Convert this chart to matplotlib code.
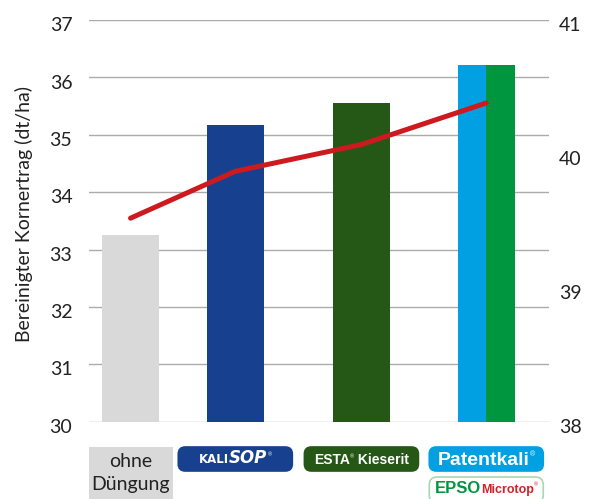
import matplotlib.pyplot as plt
from matplotlib.patches import FancyBboxPatch, Rectangle
from matplotlib.transforms import IdentityTransform, ScaledTranslation

# Daten
kategorien = ["ohne Düngung", "KALISOP", "ESTA Kieserit", "Patentkali + EPSO Microtop"]
kornertrag = [33.25, 35.17, 35.56, 36.22]      # linke Achse, dt/ha
rechte_werte = [39.52, 39.87, 40.07, 40.38]    # rechte Achse (Linie)
links_ticks = [30, 31, 32, 33, 34, 35, 36, 37]
rechts_ticks = [38, 39, 40, 41]

# Layout
pos = [0, 0.835, 1.84, 2.835]
breite = 0.454
farben = ["#d9d9d9", "#17418f", "#255716"]
hellblau = "#00a0e2"
gruen = "#009640"
rot = "#cc1a1f"

plt.rcParams['font.family'] = ['Lato', 'DejaVu Sans']

fig = plt.figure(figsize=(6.01, 4.99), dpi=100)
ax = fig.add_axes([89 / 601, (499 - 421.7) / 499, 460 / 601, 401.7 / 499])

ax.bar(pos[:3], kornertrag[:3], width=breite, color=farben, zorder=2)
ax.bar(pos[3] - breite / 4, kornertrag[3], width=breite / 2, color=hellblau, zorder=2)
ax.bar(pos[3] + breite / 4, kornertrag[3], width=breite / 2, color=gruen, zorder=2)

ax.set_ylim(30, 37)
ax.set_xlim(-0.331, 3.335)
ax.set_yticks(links_ticks)
ax.set_xticks([])
ax.grid(axis='y', color='#ababab', lw=1, zorder=0)
ax.set_axisbelow(True)
ax.tick_params(axis='y', length=0, pad=12, labelsize=14, labelcolor='#222222')
for s in ax.spines.values():
    s.set_visible(False)

ax2 = ax.twinx()
ax2.set_ylim(38, 41)
ax2.set_yticks(rechts_ticks)
ax2.tick_params(axis='y', length=0, pad=7, labelsize=14, labelcolor='#222222')
for s in ax2.spines.values():
    s.set_visible(False)
ax2.plot(pos, rechte_werte, color=rot, lw=3.6, solid_capstyle='round', solid_joinstyle='round')

fig.text(24 / 601, 1 - 214 / 499, "Bereinigter Kornertrag (dt/ha)", rotation=90,
         ha='center', va='center', fontsize=14, color='#222222')

# Zahlen etwas tiefer setzen wie im Original
fig.canvas.draw()
runter = ScaledTranslation(0, -3 / 72, fig.dpi_scale_trans)
for a in (ax, ax2):
    for tick in a.yaxis.get_major_ticks():
        tick.label1.set_transform(tick.label1.get_transform() + runter)
        tick.label2.set_transform(tick.label2.get_transform() + runter)

# Beschriftungen unter den Balken (Logos als Text)
pix = IdentityTransform()
renderer = fig.canvas.get_renderer()


def kasten(cx, y0, w, h, fc, ec=None, r=7):
    p = FancyBboxPatch((cx - w / 2, y0), w, h, boxstyle=f"round,pad=0,rounding_size={r}",
                       fc=fc, ec=ec or fc, lw=1.2, transform=pix)
    fig.add_artist(p)


def schrift(cx, y, teile):
    texte = []
    for s, dy, kw in teile:
        texte.append(fig.text(0, y + dy, s, transform=pix, va='baseline', ha='left', **kw))
    breiten = [t.get_window_extent(renderer).width for t in texte]
    x = cx - sum(breiten) / 2
    for t, b in zip(texte, breiten):
        t.set_x(x)
        x += b


mitten = [ax.transData.transform((p, 30))[0] for p in pos]

# ohne Düngung
fig.add_artist(Rectangle((mitten[0] - 42, 0), 84, 52.3, fc='#d9d9d9', ec='none', transform=pix))
fig.text(mitten[0], 32, "ohne", transform=pix, ha='center', va='baseline', fontsize=14, color='#222222')
fig.text(mitten[0], 9, "Düngung", transform=pix, ha='center', va='baseline', fontsize=14, color='#222222')

lib = ['Liberation Sans', 'DejaVu Sans']

# KALISOP
kasten(mitten[1], 28, 114, 24, farben[1])
schrift(mitten[1], 36, [
    ("KALI", 0, dict(family='DejaVu Sans', fontsize=8.5, weight='bold', color='white')),
    ("SOP", 0, dict(family='DejaVu Sans', fontsize=12, weight='bold', style='italic', color='white')),
    ("®", 7, dict(family=lib, fontsize=4, color='white')),
])

# ESTA Kieserit
kasten(mitten[2], 28, 114, 24, farben[2])
schrift(mitten[2], 35, [
    ("ESTA", 0, dict(family=lib, fontsize=10, weight='bold', color='white')),
    ("®", 6, dict(family=lib, fontsize=4, color='white')),
    (" Kieserit", 0, dict(family=lib, fontsize=10, weight='bold', color='white')),
])

# Patentkali
kasten(mitten[3], 28, 114, 24, hellblau)
schrift(mitten[3], 34, [
    ("Patentkali", 0, dict(family=lib, fontsize=14, weight='bold', color='white')),
    ("®", 9, dict(family=lib, fontsize=5, color='white')),
])

# EPSO Microtop
kasten(mitten[3], -4, 114, 26, 'white', ec='#a8d8b0', r=8)
schrift(mitten[3], 6, [
    ("EPSO", 0, dict(family=lib, fontsize=12, weight='bold', color=gruen)),
    ("Microtop", 0, dict(family=lib, fontsize=9, weight='bold', color='#d2232a')),
    ("®", 7, dict(family=lib, fontsize=4, color='#d2232a')),
])

fig.savefig("out.png", dpi=100)
